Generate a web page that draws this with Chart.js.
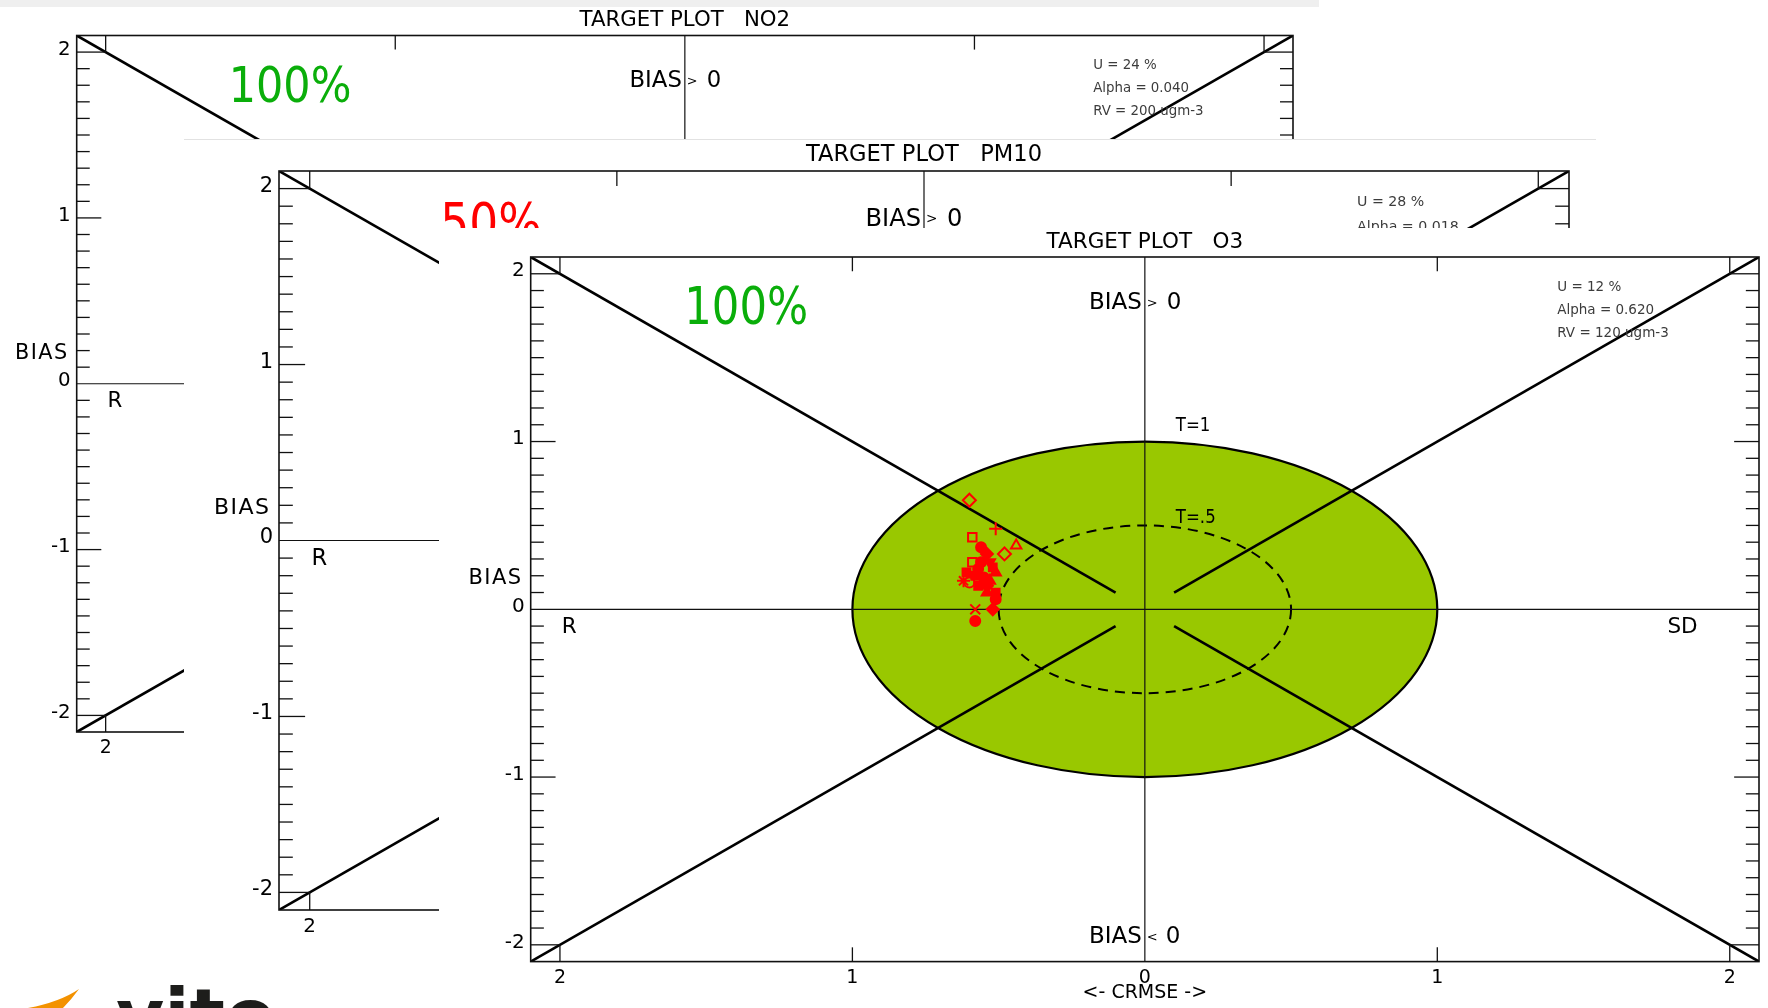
<!DOCTYPE html>
<html>
<head>
<meta charset="utf-8">
<title>Target plots NO2 / PM10 / O3</title>
<script src="https://cdn.jsdelivr.net/npm/chart.js@4.4.1/dist/chart.umd.min.js"></script>
<style>
  html, body { margin: 0; padding: 0; background: #fff; width: 1768px; height: 1008px; overflow: hidden; position: relative; }
  .panel { position: absolute; background: #fff; overflow: hidden; }
  .panel canvas { position: absolute; left: 0; top: 0; }
  #band { position: absolute; left: 0; top: 0; width: 1319px; height: 7px; background: #efefef; }
  .edge { position: absolute; left: 0; top: 0; right: 0; height: 1px; background: #e2e2e2; }
  #logo { position: absolute; left: 0; top: 0; }
</style>
</head>
<body>
<div id="band"></div>
<div class="panel" id="pNO2"><canvas id="cNO2"></canvas></div>
<div class="panel" id="pPM10"><canvas id="cPM10"></canvas><div class="edge"></div></div>
<div class="panel" id="pO3"><canvas id="cO3"></canvas></div>
<svg id="logo" width="320" height="1008" viewBox="0 0 320 1008">
  <path d="M 28 1008 Q 60 1002 79 989 Q 71 1000 63 1008 Z" fill="#f39200"/>
  <text x="116" y="1042" font-family="DejaVu Sans, sans-serif" font-weight="bold" font-size="74" fill="#1d1d1b">vito</text>
</svg>

<script>
// ---- axes ----
const axisMin = -2.1;
const axisMax = 2.1;
const axisTicks = [-2, -1, 0, 1, 2];
const minorStep = 0.1;

// ---- target zones (T = 1 filled, T = 0.5 dashed) ----
const targetRadii = [1, 0.5];
const targetLabels = ['T=1', 'T=.5'];

// ---- diagonal separators: [x0, y0, x1, y1] ----
const diagonals = [
  [-2.1, 2.1, -0.1, 0.1],
  [2.1, 2.1, 0.1, 0.1],
  [-2.1, -2.1, -0.1, -0.1],
  [2.1, -2.1, 0.1, -0.1]
];

// ---- per pollutant summary ----
const pollutants = ['NO2', 'PM10', 'O3'];
const fulfilPct = [100, 50, 100];
const uncertaintyPct = [24, 28, 12];
const alphaValues = ['0.040', '0.018', '0.620'];
const referenceValues = [200, 50, 120];

// ---- O3 stations: normalised CRMSE (signed) and BIAS ----
const o3Crmse = [-0.60, -0.51, -0.59, -0.44, -0.48, -0.56, -0.54, -0.59, -0.56, -0.53,
                 -0.51, -0.61, -0.62, -0.60, -0.58, -0.55, -0.57, -0.54, -0.54, -0.51,
                 -0.51, -0.58, -0.52, -0.58, -0.57, -0.53, -0.52];
const o3Bias  = [0.65, 0.48, 0.43, 0.38, 0.33, 0.37, 0.33, 0.28, 0.28, 0.28,
                 0.22, 0.22, 0.17, 0.16, 0.20, 0.19, 0.14, 0.14, 0.10, 0.10,
                 0.06, 0.00, 0.00, -0.07, 0.24, 0.17, 0.25];
const o3Symbols = ['D', '+', 'S', 'T', 'D', 'Cf', 'Df', 'S', 'Cf', 'Vf',
                   'Tf', 'Sf', '*', 'C', 'Sf', 'Cf', 'Sf', 'Df', 'Tf', 'Sf',
                   'Cf', 'X', 'Df', 'Cf', 'Cf', 'Tf', 'Sf'];

// ---- styling ----
const SANS = "'DejaVu Sans', 'Liberation Sans', sans-serif";
const GREEN_ZONE = '#99c800';
const MARK_RED = '#ff0000';
const markerStyle = {
  'D':  { style: 'rectRot', fill: false, rot: 0, r: 6.5 },
  'Df': { style: 'rectRot', fill: true,  rot: 0, r: 6 },
  'S':  { style: 'rect',    fill: false, rot: 0, r: 6 },
  'Sf': { style: 'rect',    fill: true,  rot: 0, r: 5.5 },
  'C':  { style: 'circle',  fill: false, rot: 0, r: 5 },
  'Cf': { style: 'circle',  fill: true,  rot: 0, r: 5 },
  'T':  { style: 'triangle',fill: false, rot: 0, r: 6 },
  'Tf': { style: 'triangle',fill: true,  rot: 0, r: 6 },
  'Vf': { style: 'triangle',fill: true,  rot: 180, r: 6 },
  '+':  { style: 'cross',   fill: false, rot: 0, r: 6.5 },
  'X':  { style: 'crossRot',fill: false, rot: 0, r: 7 },
  '*':  { style: 'star',    fill: false, rot: 0, r: 6.5 }
};

// panel rectangles and plot-area placement on the page
const panelLayout = [
  { box: { x: 0,   y: 7,   w: 1320, h: 1001 }, area: { l: 76.7,  t: 35.5, r: 1293,   b: 732 },   fs: 0.99 },
  { box: { x: 184, y: 139, w: 1412, h: 869 },  area: { l: 279,   t: 171,  r: 1569,   b: 910 },   fs: 1.05 },
  { box: { x: 439, y: 228, w: 1329, h: 780 },  area: { l: 530.7, t: 257,  r: 1759.3, b: 961.6 }, fs: 1.0 }
];

function drawLabel(ctx, str, px, py, font, o = {}) {
  const align = o.align || 'left', sx = o.sx || 1;
  ctx.save();
  ctx.font = font;
  ctx.fillStyle = o.color || '#000';
  ctx.textBaseline = 'alphabetic';
  ctx.textAlign = 'left';
  if (o.spacing) ctx.letterSpacing = o.spacing + 'px';
  const w = ctx.measureText(str).width * sx;
  const left = align === 'left' ? px : (align === 'right' ? px - w : px - w / 2);
  ctx.translate(left, py);
  ctx.scale(sx, 1);
  ctx.fillText(str, 0, 0);
  ctx.restore();
}

function line(ctx, x0, y0, x1, y1) {
  ctx.beginPath(); ctx.moveTo(x0, y0); ctx.lineTo(x1, y1); ctx.stroke();
}

const targetPlugin = {
  id: 'targetFrame',
  beforeDatasetsDraw(chart) {
    const { ctx, chartArea: a, scales: { x, y } } = chart;
    const cx = x.getPixelForValue(0), cy = y.getPixelForValue(0);
    ctx.save();
    // T = 1 zone
    let rx = x.getPixelForValue(targetRadii[0]) - cx, ry = cy - y.getPixelForValue(targetRadii[0]);
    ctx.beginPath(); ctx.ellipse(cx, cy, rx, ry, 0, 0, Math.PI * 2);
    ctx.fillStyle = GREEN_ZONE; ctx.fill();
    ctx.lineWidth = 2.2; ctx.strokeStyle = '#000'; ctx.stroke();
    // T = 0.5 contour
    rx = x.getPixelForValue(targetRadii[1]) - cx; ry = cy - y.getPixelForValue(targetRadii[1]);
    ctx.beginPath(); ctx.ellipse(cx, cy, rx, ry, 0, 0, Math.PI * 2);
    ctx.setLineDash([10, 7]); ctx.lineWidth = 2; ctx.stroke();
    ctx.setLineDash([]);
    // zero axes
    ctx.lineWidth = 1.2; ctx.strokeStyle = '#111';
    line(ctx, cx, a.top, cx, a.bottom);
    line(ctx, a.left, cy, a.right, cy);
    ctx.restore();
  },
  afterDatasetsDraw(chart) {
    const { ctx, chartArea: a, scales: { x, y } } = chart;
    const X = v => x.getPixelForValue(v), Y = v => y.getPixelForValue(v);
    const major = 0.085, minor = 0.045;
    ctx.save();
    ctx.strokeStyle = '#111';
    ctx.lineWidth = 1.6;
    ctx.strokeRect(a.left, a.top, a.right - a.left, a.bottom - a.top);
    ctx.lineWidth = 1.3;
    // minor ticks on left and right borders
    const n = Math.round(axisMax / minorStep);
    for (let i = -n + 1; i < n; i++) {
      const v = i * minorStep;
      if (i % 10 === 0) continue;
      line(ctx, a.left, Y(v), X(axisMin + minor), Y(v));
      line(ctx, a.right, Y(v), X(axisMax - minor), Y(v));
    }
    // major ticks and corner squares
    axisTicks.forEach(v => {
      if (v === 0) return;
      if (Math.abs(v) === 2) {
        line(ctx, a.left, Y(v), X(-2), Y(v));
        line(ctx, a.right, Y(v), X(2), Y(v));
        line(ctx, X(v), a.top, X(v), Y(2));
        line(ctx, X(v), a.bottom, X(v), Y(-2));
      } else {
        line(ctx, a.left, Y(v), X(axisMin + major), Y(v));
        line(ctx, a.right, Y(v), X(axisMax - major), Y(v));
        line(ctx, X(v), a.top, X(v), Y(axisMax - major));
        line(ctx, X(v), a.bottom, X(v), Y(axisMin + major));
      }
    });
    ctx.restore();
  },
  afterDraw(chart, args, o) {
    const { ctx, chartArea: a, scales: { x, y } } = chart;
    const X = v => x.getPixelForValue(v), Y = v => y.getPixelForValue(v);
    const fs = o.fs;
    const f = s => `${(s * fs).toFixed(2)}px ${SANS}`;
    const x0 = X(0);
    drawLabel(ctx, o.title, x0, a.top - 9.5 * fs, f(21.5), { align: 'center' });
    drawLabel(ctx, o.percent, X(-1.575), Y(1.70), f(51), { color: o.pctColor, sx: 0.85 });
    drawLabel(ctx, 'BIAS', x0 - 3, Y(1.79), f(23), { align: 'right' });
    drawLabel(ctx, '>', x0 + 2, Y(1.79) - 2 * fs, f(13));
    drawLabel(ctx, '0', x0 + 22 * fs, Y(1.79), f(23));
    drawLabel(ctx, 'BIAS', x0 - 3, Y(-1.99), f(23), { align: 'right' });
    drawLabel(ctx, '<', x0 + 2, Y(-1.99) - 2 * fs, f(13));
    drawLabel(ctx, '0', x0 + 21 * fs, Y(-1.99), f(23));
    o.info.forEach((s, i) => drawLabel(ctx, s, X(1.41), Y(1.899) + i * 23.2 * fs, f(13.5), { color: '#3c3c3c' }));
    drawLabel(ctx, targetLabels[0], X(0.106), Y(1.063), f(19.5), { sx: 0.85 });
    drawLabel(ctx, targetLabels[1], X(0.106), Y(0.513), f(19.5), { sx: 0.85 });
    drawLabel(ctx, 'R', X(-1.994), Y(-0.139), f(21.5));
    drawLabel(ctx, 'SD', X(1.89), Y(-0.139), f(21.5), { align: 'right' });
    drawLabel(ctx, 'BIAS', a.left - 8 * fs, Y(0.15), f(21), { align: 'right', spacing: 1.5 });
  }
};

function buildChart(idx, datasets) {
  const L = panelLayout[idx];
  const name = pollutants[idx];
  const panel = document.getElementById('p' + name);
  Object.assign(panel.style, { left: L.box.x + 'px', top: L.box.y + 'px', width: L.box.w + 'px', height: L.box.h + 'px' });
  const canvas = document.getElementById('c' + name);
  canvas.width = L.box.w; canvas.height = L.box.h;
  const fs = L.fs;
  const xH = 46;
  const yW = L.area.l - L.box.x;
  const pad = {
    left: 0,
    top: L.area.t - L.box.y,
    right: L.box.x + L.box.w - L.area.r,
    bottom: Math.max(0, L.box.y + L.box.h - L.area.b - xH)
  };
  const pct = fulfilPct[idx];
  return new Chart(canvas, {
    type: 'scatter',
    data: { datasets },
    plugins: [targetPlugin],
    options: {
      responsive: false,
      animation: false,
      devicePixelRatio: 1,
      events: [],
      layout: { padding: pad },
      plugins: {
        legend: { display: false },
        tooltip: { enabled: false },
        targetFrame: {
          fs,
          title: 'TARGET PLOT   ' + name,
          percent: pct + '%',
          pctColor: pct >= 90 ? '#0aae0a' : '#ff0000',
          info: ['U = ' + uncertaintyPct[idx] + ' %', 'Alpha = ' + alphaValues[idx], 'RV = ' + referenceValues[idx] + ' ugm-3']
        }
      },
      scales: {
        x: {
          type: 'linear', position: 'bottom', min: axisMin, max: axisMax,
          afterBuildTicks: s => { s.ticks = axisTicks.map(v => ({ value: v })); },
          afterFit: s => { s.height = xH; },
          grid: { display: false, drawTicks: false },
          border: { display: false },
          ticks: {
            autoSkip: false, maxRotation: 0, padding: 5, color: '#000',
            font: { family: SANS, size: 19 * fs },
            callback: v => String(Math.abs(v))
          },
          title: {
            display: true, text: '<- CRMSE ->', color: '#000',
            font: { family: SANS, size: 19 * fs },
            padding: { top: 0, bottom: 3 }
          }
        },
        y: {
          type: 'linear', position: 'left', min: axisMin, max: axisMax,
          afterBuildTicks: s => { s.ticks = axisTicks.map(v => ({ value: v })); },
          afterFit: s => { s.width = yW; },
          grid: { display: false, drawTicks: false },
          border: { display: false },
          ticks: {
            autoSkip: false, padding: 6, color: '#000', labelOffset: -2.5,
            font: { family: SANS, size: 20 * fs },
            callback: v => String(v)
          }
        }
      }
    }
  });
}

function diagonalSets() {
  return diagonals.map(d => ({
    data: [{ x: d[0], y: d[1] }, { x: d[2], y: d[3] }],
    showLine: true, borderColor: '#000', borderWidth: 2.6,
    pointRadius: 0, order: 2
  }));
}

const o3Points = {
  data: o3Crmse.map((c, i) => ({ x: c, y: o3Bias[i] })),
  pointStyle: o3Symbols.map(s => markerStyle[s].style),
  rotation: o3Symbols.map(s => markerStyle[s].rot),
  pointRadius: o3Symbols.map(s => markerStyle[s].r),
  backgroundColor: o3Symbols.map(s => markerStyle[s].fill ? MARK_RED : 'rgba(0,0,0,0)'),
  borderColor: MARK_RED,
  borderWidth: 2,
  showLine: false,
  order: 1
};

buildChart(0, diagonalSets());
buildChart(1, diagonalSets());
buildChart(2, diagonalSets().concat([o3Points]));
</script>
</body>
</html>
